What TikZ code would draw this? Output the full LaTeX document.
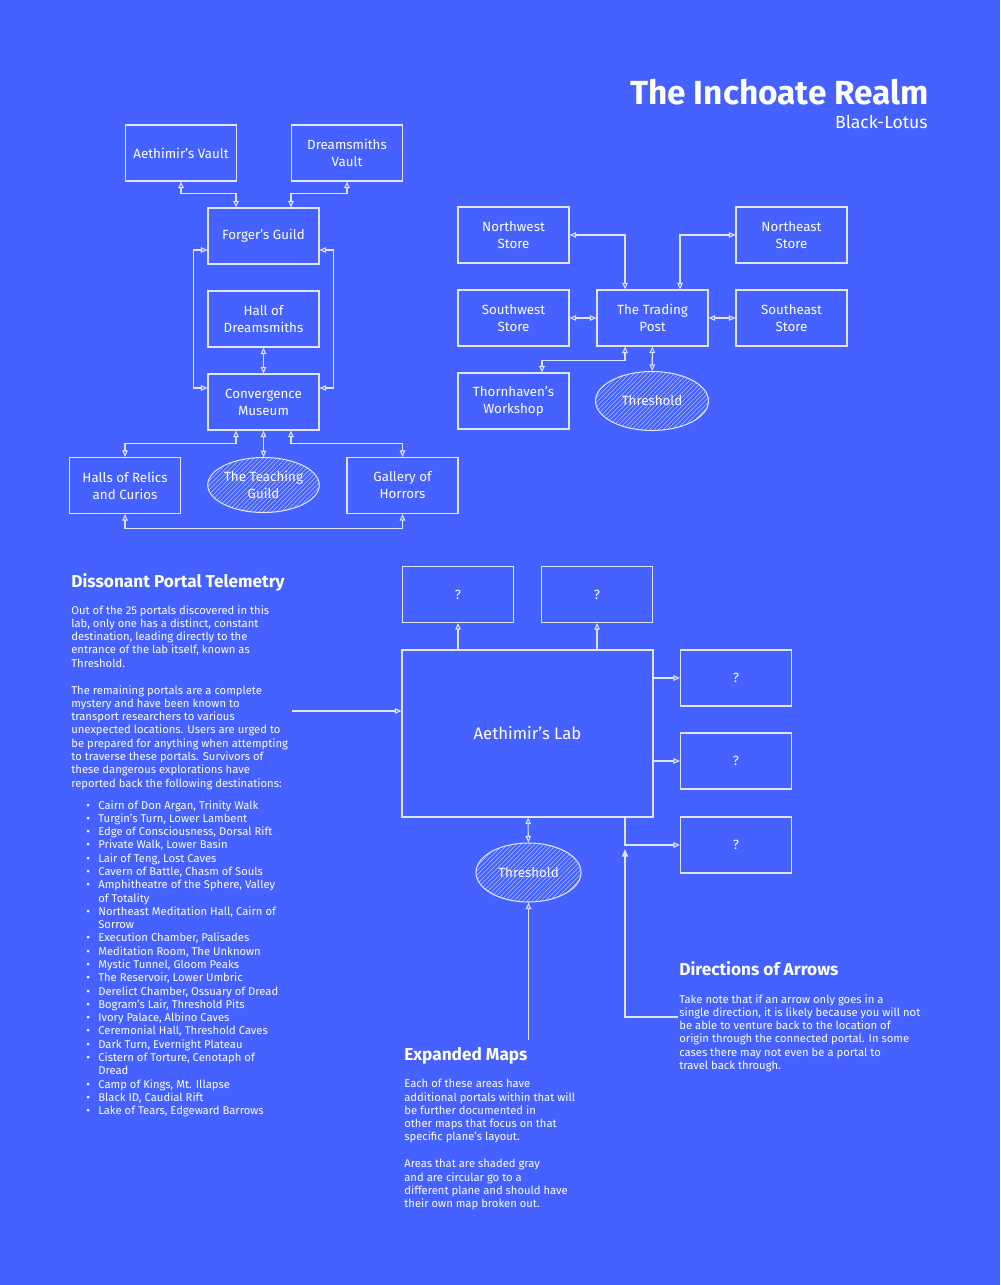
\documentclass[tikz,border=0pt]{standalone}
\usepackage{fontspec}
\setmainfont{Fira Sans}
\usetikzlibrary{arrows.meta,shapes.geometric,patterns.meta}

\definecolor{realmblue}{RGB}{69,97,255}
\definecolor{inkline}{RGB}{224,228,255}
\definecolor{hatchline}{RGB}{190,200,255}

\newcommand\boxfont{\fontsize{7.6}{9.6}\selectfont}
\newcommand\lotusfont{\fontsize{10}{12}\selectfont}
\newcommand\labfont{\fontsize{9.5}{11}\selectfont}
\newcommand\bodyfont{\fontsize{6.4}{7.56}\selectfont}
\newcommand\headfont{\fontsize{9.8}{11}\selectfont\bfseries}
\newcommand\realmfont{\fontsize{19}{22}\selectfont\bfseries}

\tikzset{
  room/.style={draw=inkline, line width=0.6pt, text=white, font=\boxfont,
    align=center, minimum width=22.2mm, minimum height=11.2mm, inner sep=1pt},
  plane/.style={ellipse, draw=inkline, line width=0.6pt, text=white,
    font=\boxfont, align=center, minimum width=22.2mm, minimum height=11mm,
    inner sep=0pt,
    pattern={Lines[angle=45, distance=1.8pt, line width=0.3pt]},
    pattern color=hatchline},
  link/.style={draw=inkline, line width=0.6pt,
    {Triangle[open,length=1.3mm,width=1.1mm]}-{Triangle[open,length=1.3mm,width=1.1mm]}},
  oneway/.style={draw=inkline, line width=0.6pt,
    -{Triangle[open,length=1.3mm,width=1.1mm]}},
  pointer/.style={draw=inkline, line width=0.6pt,
    -{Triangle[length=1.5mm,width=1.2mm]}},
  note/.style={text=white, font=\bodyfont, align=left, anchor=north west,
    inner sep=0pt},
  heading/.style={text=white, font=\headfont, anchor=base west, inner sep=0pt},
}

\begin{document}
\begin{tikzpicture}[x=0.2mm, y=-0.2mm]
  \fill[realmblue] (0,0) rectangle (1000,1285);
  \useasboundingbox (0,0) rectangle (1000,1285);

  % title
  \node[text=white, font=\realmfont, anchor=base east, inner sep=0pt] (realm) at (929,105) {The Inchoate Realm};
  \node[text=white, font=\lotusfont, anchor=base east, inner sep=0pt] (lotus) at (928,129) {Black-Lotus};

  % forger's guild cluster
  \node[room] (avault) at (181,153) {Aethimir's Vault};
  \node[room] (dvault) at (347,153) {Dreamsmiths\\Vault};
  \node[room] (forger) at (263.5,236) {Forger's Guild};
  \node[room] (hall) at (263.5,319) {Hall of\\Dreamsmiths};
  \node[room] (museum) at (263.5,402) {Convergence\\Museum};
  \node[room] (relics) at (125,485.5) {Halls of Relics\\and Curios};
  \node[plane] (teaching) at (263.5,485) {The Teaching\\Guild};
  \node[room] (gallery) at (402.5,485.5) {Gallery of\\Horrors};

  \draw[link] (avault.south) |- ([xshift=-5.5mm, yshift=2.8mm]forger.north) -- ([xshift=-5.5mm]forger.north);
  \draw[link] (dvault.south) |- ([xshift=5.5mm, yshift=2.8mm]forger.north) -- ([xshift=5.5mm]forger.north);
  \draw[link] ([yshift=-2.8mm]forger.west) -- ++(-14,0) |- ([yshift=2.8mm]museum.west);
  \draw[link] ([yshift=-2.8mm]forger.east) -- ++(14,0) |- ([yshift=2.8mm]museum.east);
  \draw[link] (hall) -- (museum);
  \draw[link] ([xshift=-5.5mm]museum.south) -- ++(0,13) -| (relics.north);
  \draw[link] (museum) -- (teaching);
  \draw[link] ([xshift=5.5mm]museum.south) -- ++(0,13) -| (gallery.north);
  \draw[link] (relics.south) -- ++(0,14) -| (gallery.south);

  % trading post cluster
  \node[room] (nwstore) at (513.5,235) {Northwest\\Store};
  \node[room] (nestore) at (791.5,235) {Northeast\\Store};
  \node[room] (swstore) at (513.5,318) {Southwest\\Store};
  \node[room] (tpost) at (652.5,318) {The Trading\\Post};
  \node[room] (sestore) at (791.5,318) {Southeast\\Store};
  \node[room] (thorn) at (513.5,401) {Thornhaven's\\Workshop};
  \node[plane, minimum width=22.6mm, minimum height=11.8mm] (gate) at (652,401) {Threshold};

  \draw[link] (nwstore.east) -| ([xshift=-5.5mm]tpost.north);
  \draw[link] (nestore.west) -| ([xshift=5.5mm]tpost.north);
  \draw[link] (swstore) -- (tpost);
  \draw[link] (tpost) -- (sestore);
  \draw[link] ([xshift=-5.5mm]tpost.south) -- ++(0,14) -| ([xshift=5.7mm]thorn.north);
  \draw[link] (tpost) -- (gate);

  % the lab
  \node[room, font=\labfont, minimum width=50.2mm, minimum height=33.4mm] (lab) at (527.5,733.5) {Aethimir's Lab};
  \node[room] (qup) at (458,594.5) {?};
  \node[room] (qupr) at (597,594.5) {?};
  \node[room] (qeast) at (736,678) {?};
  \node[room] (qmid) at (736,761) {?};
  \node[room] (qlow) at (736,845) {?};
  \node[plane, minimum width=21mm, minimum height=11.8mm] (labgate) at (528.5,872.5) {Threshold};

  \coordinate (telenote) at (292,711);
  \coordinate (mapsnote) at (528,1040);
  \coordinate (dirnote) at (678,1017);
  \coordinate (dirtip) at (625,849);

  \draw[oneway] (qup.south |- lab.north) -- (qup.south);
  \draw[oneway] (qupr.south |- lab.north) -- (qupr.south);
  \draw[oneway] (lab.east |- qeast.west) -- (qeast.west);
  \draw[oneway] (lab.east |- qmid.west) -- (qmid.west);
  \draw[oneway] (dirtip |- lab.south) |- (qlow.west);
  \draw[link] (lab) -- (labgate);
  \draw[oneway] (telenote) -- (lab.west |- telenote);
  \draw[oneway] (labgate.south |- mapsnote) -- (labgate.south);
  \draw[pointer] (dirnote) -| (dirtip);

  % notes
  \node[heading] (telehead) at (71,587) {Dissonant Portal Telemetry};
  \node[note] (teleone) at (71,605) {Out of the 25 portals discovered in this\\
    lab, only one has a distinct, constant\\
    destination, leading directly to the\\
    entrance of the lab itself, known as\\
    Threshold.};
  \node[note] (teletwo) at (71,685) {The remaining portals are a complete\\
    mystery and have been known to\\
    transport researchers to various\\
    unexpected locations. Users are urged to\\
    be prepared for anything when attempting\\
    to traverse these portals. Survivors of\\
    these dangerous explorations have\\
    reported back the following destinations:};
  \node[note] (sites) at (86,800) {%
    \makebox[2.4mm][l]{\textbullet}Cairn of Don Argan, Trinity Walk\\
    \makebox[2.4mm][l]{\textbullet}Turgin's Turn, Lower Lambent\\
    \makebox[2.4mm][l]{\textbullet}Edge of Consciousness, Dorsal Rift\\
    \makebox[2.4mm][l]{\textbullet}Private Walk, Lower Basin\\
    \makebox[2.4mm][l]{\textbullet}Lair of Teng, Lost Caves\\
    \makebox[2.4mm][l]{\textbullet}Cavern of Battle, Chasm of Souls\\
    \makebox[2.4mm][l]{\textbullet}Amphitheatre of the Sphere, Valley\\
    \hspace*{2.4mm}of Totality\\
    \makebox[2.4mm][l]{\textbullet}Northeast Meditation Hall, Cairn of\\
    \hspace*{2.4mm}Sorrow\\
    \makebox[2.4mm][l]{\textbullet}Execution Chamber, Palisades\\
    \makebox[2.4mm][l]{\textbullet}Meditation Room, The Unknown\\
    \makebox[2.4mm][l]{\textbullet}Mystic Tunnel, Gloom Peaks\\
    \makebox[2.4mm][l]{\textbullet}The Reservoir, Lower Umbric\\
    \makebox[2.4mm][l]{\textbullet}Derelict Chamber, Ossuary of Dread\\
    \makebox[2.4mm][l]{\textbullet}Bogram's Lair, Threshold Pits\\
    \makebox[2.4mm][l]{\textbullet}Ivory Palace, Albino Caves\\
    \makebox[2.4mm][l]{\textbullet}Ceremonial Hall, Threshold Caves\\
    \makebox[2.4mm][l]{\textbullet}Dark Turn, Evernight Plateau\\
    \makebox[2.4mm][l]{\textbullet}Cistern of Torture, Cenotaph of\\
    \hspace*{2.4mm}Dread\\
    \makebox[2.4mm][l]{\textbullet}Camp of Kings, Mt. Illapse\\
    \makebox[2.4mm][l]{\textbullet}Black ID, Caudial Rift\\
    \makebox[2.4mm][l]{\textbullet}Lake of Tears, Edgeward Barrows};

  \node[heading] (mapshead) at (404,1060) {Expanded Maps};
  \node[note] (mapsone) at (404,1079) {Each of these areas have\\
    additional portals within that will\\
    be further documented in\\
    other maps that focus on that\\
    specific plane's layout.};
  \node[note] (mapstwo) at (404,1159) {Areas that are shaded gray\\
    and are circular go to a\\
    different plane and should have\\
    their own map broken out.};

  \node[heading] (dirhead) at (679,975) {Directions of Arrows};
  \node[note] (dirbody) at (679,994) {Take note that if an arrow only goes in a\\
    single direction, it is likely because you will not\\
    be able to venture back to the location of\\
    origin through the connected portal. In some\\
    cases there may not even be a portal to\\
    travel back through.};
\end{tikzpicture}
\end{document}
